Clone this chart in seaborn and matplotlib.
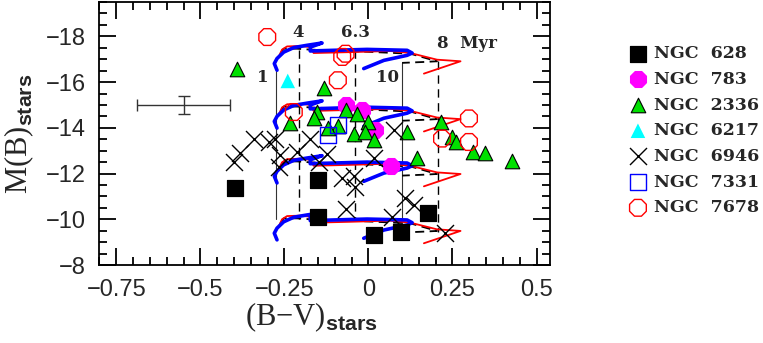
import numpy as np
import pandas as pd
import seaborn as sns
import matplotlib.pyplot as plt
from matplotlib.ticker import MultipleLocator

# track shape (top mass level)
blue_x = [-0.272, -0.280, -0.272, -0.252, -0.222, -0.182, -0.138, -0.173, -0.173,
          -0.103, -0.004, 0.115, 0.130, 0.115, 0.046, -0.014]
blue_y = [-16.52, -16.81, -17.03, -17.31, -17.51, -17.61, -17.71, -17.53, -17.36,
          -17.39, -17.43, -17.39, -17.27, -17.17, -16.95, -16.59]
red_x = [-0.267, -0.257, -0.242, -0.202, -0.173, -0.163, -0.054, 0.065, 0.125,
         0.204, 0.274, 0.165]
red_y = [-17.10, -17.42, -17.56, -17.58, -17.53, -17.27, -17.31, -17.36, -17.27,
         -16.98, -16.91, -16.37]
blk_x = [-0.262, -0.252, -0.212, -0.173, -0.054, 0.125, 0.204, 0.165, 0.100]
blk_y = [-17.24, -17.46, -17.46, -17.42, -17.36, -17.24, -16.91, -16.88, -16.84]
# magnitude shift of each cluster-mass level
levels = [0.0, 2.53, 4.93, 7.42]

# age lines: x, top, bottom
age_solid = [(-0.274, -16.50, -10.03), (0.100, -16.84, -9.40)]
age_dashed = [(-0.208, -17.39, -10.03), (-0.041, -17.39, -10.03), (0.207, -16.91, -9.45)]

# observed clusters
ngc628_x = [-0.398, -0.150, -0.150, 0.178, 0.018, 0.098]
ngc628_y = [-11.38, -11.71, -10.11, -10.28, -9.31, -9.43]
ngc783_x = [-0.068, -0.019, 0.021, 0.068]
ngc783_y = [-14.99, -14.77, -13.90, -12.32]
ngc2336_x = [-0.391, -0.131, -0.232, -0.153, -0.163, -0.091, -0.121, -0.068, -0.034,
             -0.002, -0.042, -0.009, 0.018, 0.115, 0.216, 0.249, 0.259, 0.145,
             0.312, 0.348, 0.428]
ngc2336_y = [-16.59, -15.72, -14.19, -14.69, -14.41, -14.07, -13.97, -14.77, -14.62,
             -14.26, -13.75, -13.82, -13.46, -13.82, -14.26, -13.60, -13.38, -12.66,
             -12.95, -12.88, -12.56]
ngc6217_x = [-0.240]
ngc6217_y = [-16.05]
ngc6946_x = [-0.401, -0.381, -0.341, -0.297, -0.277, -0.262, -0.267, -0.212, -0.173,
             -0.148, -0.123, -0.078, -0.044, -0.039, -0.068, 0.018, 0.076, 0.110,
             0.135, 0.071, 0.229]
ngc6946_y = [-12.49, -12.88, -13.53, -13.40, -13.53, -12.80, -12.29, -12.95, -13.53,
             -12.49, -12.85, -11.82, -11.88, -11.43, -10.45, -12.66, -13.89, -10.94,
             -10.64, -10.11, -9.40]
ngc7331_x = [-0.091, -0.121]
ngc7331_y = [-14.13, -13.68]
ngc7678_x = [-0.301, -0.078, -0.068, -0.091, -0.222, 0.299, 0.219, 0.299]
ngc7678_y = [-17.97, -17.10, -17.24, -16.08, -14.69, -14.41, -13.53, -13.38]

err_x, err_y, err_dx, err_dy = -0.55, -15.0, 0.138, 0.41

age_labels = ["1", "4", "6.3", "10", "8  Myr"]
age_label_x = [-0.313, -0.208, -0.039, 0.057, 0.205]
age_label_y = [-16.21, -18.17, -18.17, -16.21, -17.69]

sns.set_style("ticks")
plt.rcParams["mathtext.fontset"] = "custom"
plt.rcParams["mathtext.bf"] = "Liberation Sans:bold"
plt.rcParams["mathtext.rm"] = "Liberation Serif"

fig = plt.figure(figsize=(7.63, 3.43), dpi=100)
ax = fig.add_axes([0.1304, 0.2274, 0.5904, 0.7666])

for x, y0, y1 in age_solid:
    ax.plot([x, x], [y0, y1], color="#333333", lw=0.8, zorder=1)
for x, y0, y1 in age_dashed:
    ax.plot([x, x], [y0, y1], color="black", lw=1.0, dashes=(6, 4), zorder=1)

for dm in levels:
    ax.plot(blk_x, np.array(blk_y) + dm, color="black", lw=1.3, dashes=(5, 3), zorder=2)
    ax.plot(red_x, np.array(red_y) + dm, color="red", lw=1.3, zorder=3)
    ax.plot(blue_x, np.array(blue_y) + dm, color="blue", lw=2.6, zorder=4,
            solid_capstyle="round")

ax.errorbar(err_x, err_y, xerr=err_dx, yerr=err_dy, color="#333333", lw=1,
            capsize=4, capthick=1, zorder=5)

groups = [
    ("NGC  628", ngc628_x, ngc628_y, dict(marker="s", s=120, color="black", edgecolor="black")),
    ("NGC  783", ngc783_x, ngc783_y, dict(marker="8", s=150, color="magenta", edgecolor="magenta")),
    ("NGC  2336", ngc2336_x, ngc2336_y, dict(marker="^", s=110, color="#00e000", edgecolor="black", linewidth=0.8)),
    ("NGC  6217", ngc6217_x, ngc6217_y, dict(marker="^", s=110, color="cyan", edgecolor="none")),
    ("NGC  6946", ngc6946_x, ngc6946_y, dict(marker="x", s=150, color="black", linewidth=1.0)),
    ("NGC  7331", ngc7331_x, ngc7331_y, dict(marker="s", s=130, facecolor="none", edgecolor="blue", linewidth=1.0)),
    ("NGC  7678", ngc7678_x, ngc7678_y, dict(marker="8", s=170, facecolor="none", edgecolor="red", linewidth=1.0)),
]
for name, gx, gy, kw in groups:
    df = pd.DataFrame({"bv": gx, "mb": gy})
    sns.scatterplot(data=df, x="bv", y="mb", ax=ax, label=name, zorder=6, **kw)

for t, tx, ty in zip(age_labels, age_label_x, age_label_y):
    ha = "left" if "Myr" in t else "center"
    ax.text(tx, ty, t, ha=ha, va="center", fontsize=12, fontweight="bold",
            family="DejaVu Serif", zorder=7)

ax.set_xlim(-0.8, 0.54)
ax.set_ylim(-8, -19.5)
ax.xaxis.set_major_locator(MultipleLocator(0.25))
ax.xaxis.set_minor_locator(MultipleLocator(0.05))
ax.yaxis.set_major_locator(MultipleLocator(2))
ax.yaxis.set_minor_locator(MultipleLocator(0.5))
ax.set_xticks([-0.75, -0.5, -0.25, 0, 0.25, 0.5])
ax.set_xticklabels(["\u22120.75", "\u22120.5", "\u22120.25", "0", "0.25", "0.5"])
ax.set_yticks([-8, -10, -12, -14, -16, -18])
ax.set_yticklabels(["\u22128", "\u221210", "\u221212", "\u221214", "\u221216", "\u221218"])
ax.tick_params(which="both", direction="in", top=True, right=True, width=1.3,
               labelsize=17, pad=10, color="black")
ax.tick_params(which="major", length=12)
ax.tick_params(which="minor", length=6)
for lab in ax.get_xticklabels() + ax.get_yticklabels():
    lab.set_family("Liberation Sans")
for sp in ax.spines.values():
    sp.set_linewidth(1.3)
    sp.set_color("black")

ax.set_xlabel("(B\u2212V)$_{\\mathbf{stars}}$", fontsize=22, family="Liberation Serif")
ax.set_ylabel("M(B)$_{\\mathbf{stars}}$", fontsize=22, family="Liberation Serif")
ax.xaxis.set_label_coords(0.47, -0.133)
ax.yaxis.set_label_coords(-0.142, 0.5)

leg = ax.legend(loc="upper left", bbox_to_anchor=(0.827, 0.868), bbox_transform=fig.transFigure,
                frameon=False, handlelength=0.8, handletextpad=0.55, labelspacing=0.5,
                borderaxespad=0, borderpad=0,
                prop={"family": "DejaVu Serif", "weight": "bold", "size": 12.5})

fig.savefig("out.png", dpi=100)
